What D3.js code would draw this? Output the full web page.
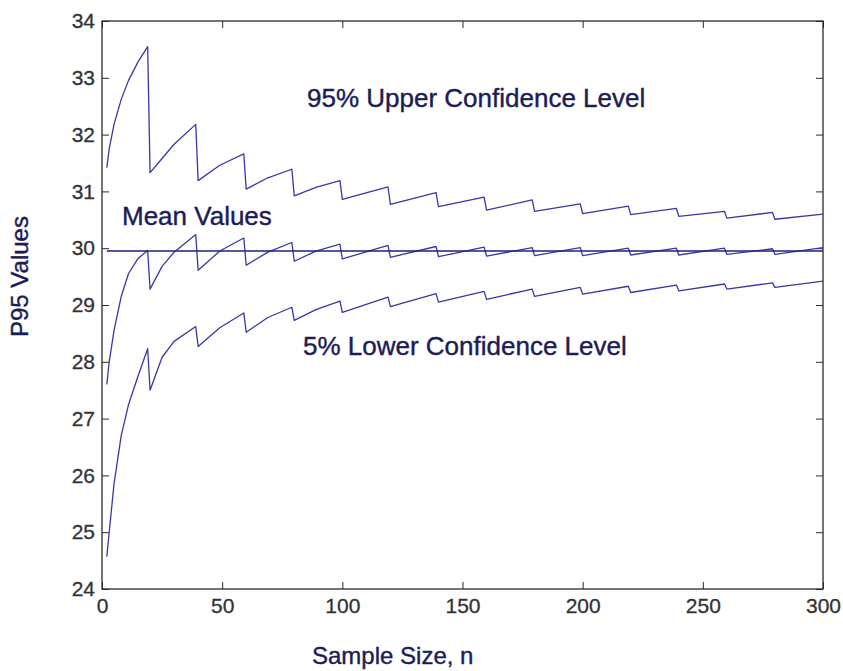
<!DOCTYPE html>
<html>
<head>
<meta charset="utf-8">
<script src="https://cdn.jsdelivr.net/npm/d3@7"></script>
<style>
  body { margin: 0; background: #fff; }
  svg { display: block; }
  .tick text { font-family: Arial, "Liberation Sans", sans-serif; font-size: 21px; fill: #333; stroke: #333; stroke-width: 0.3px; }
  .tick line { stroke: #2a2a2a; stroke-width: 1; }
  .label { font-family: Arial, "Liberation Sans", sans-serif; fill: #1c1c58; stroke: #1c1c58; stroke-width: 0.4px; }
</style>
</head>
<body>
<div id="chart"></div>
<script>
// P95 values vs sample size
var sampleSize = [2, 3, 5, 8, 11, 15, 19, 20, 25, 30, 39, 40, 49, 59, 60, 69, 79, 80, 89, 99,
                  100, 119, 120, 139, 140, 159, 160, 179, 180, 199, 200, 219, 220, 239, 240, 259, 260, 279, 280, 300];

var upperCL = [31.42, 31.75, 32.18, 32.62, 32.95, 33.28, 33.55, 31.33, 31.58, 31.83, 32.18, 31.19, 31.46, 31.66, 31.04, 31.24, 31.39, 30.92, 31.07, 31.19,
               30.86, 31.08, 30.77, 30.98, 30.73, 30.90, 30.67, 30.85, 30.65, 30.78, 30.61, 30.74, 30.59, 30.70, 30.56, 30.65, 30.53, 30.63, 30.51, 30.60];

var meanP95 = [27.60, 28.00, 28.55, 29.15, 29.55, 29.82, 29.96, 29.28, 29.68, 29.93, 30.24, 29.61, 29.95, 30.18, 29.70, 29.93, 30.10, 29.77, 29.95, 30.07,
               29.81, 30.05, 29.84, 30.03, 29.85, 30.02, 29.86, 30.01, 29.87, 30.01, 29.87, 30.00, 29.88, 30.00, 29.88, 30.00, 29.89, 29.99, 29.89, 30.01];

var lowerCL = [24.57, 25.00, 25.85, 26.70, 27.24, 27.75, 28.23, 27.50, 28.08, 28.36, 28.62, 28.27, 28.60, 28.86, 28.52, 28.78, 28.96, 28.73, 28.92, 29.07,
               28.87, 29.14, 28.97, 29.20, 29.05, 29.24, 29.10, 29.28, 29.15, 29.31, 29.19, 29.33, 29.22, 29.35, 29.25, 29.37, 29.28, 29.39, 29.31, 29.42];

var meanLine = [[2, 29.95], [300, 29.95]];

var xTicks = [0, 50, 100, 150, 200, 250, 300];
var yTicks = [24, 25, 26, 27, 28, 29, 30, 31, 32, 33, 34];

var W = 843, H = 671;
var m = {left: 102, right: 823, top: 21, bottom: 589};
var TICK = 7;

var svg = d3.select("#chart").append("svg")
    .attr("width", W)
    .attr("height", H);

var x = d3.scaleLinear().domain([0, 300]).range([m.left, m.right]);
var y = d3.scaleLinear().domain([24, 34]).range([m.bottom, m.top]);

// axes, ticks pointing inward like matlab
svg.append("g")
    .attr("transform", "translate(0," + m.bottom + ")")
    .call(d3.axisBottom(x).tickValues(xTicks).tickSizeInner(-TICK).tickSizeOuter(0).tickPadding(9))
    .call(function(g){ g.select(".domain").remove(); });

svg.append("g")
    .attr("transform", "translate(0," + m.top + ")")
    .call(d3.axisTop(x).tickValues(xTicks).tickSizeInner(-TICK).tickSizeOuter(0).tickFormat(""))
    .call(function(g){ g.select(".domain").remove(); });

svg.append("g")
    .attr("transform", "translate(" + m.left + ",0)")
    .call(d3.axisLeft(y).tickValues(yTicks).tickSizeInner(-TICK).tickSizeOuter(0).tickPadding(7))
    .call(function(g){ g.select(".domain").remove(); });

svg.append("g")
    .attr("transform", "translate(" + m.right + ",0)")
    .call(d3.axisRight(y).tickValues(yTicks).tickSizeInner(-TICK).tickSizeOuter(0).tickFormat(""))
    .call(function(g){ g.select(".domain").remove(); });

svg.append("rect")
    .attr("x", m.left)
    .attr("y", m.top)
    .attr("width", m.right - m.left)
    .attr("height", m.bottom - m.top)
    .attr("fill", "none")
    .attr("stroke", "#2a2a2a")
    .attr("stroke-width", 1.3);

var line = d3.line()
    .x(function(d){ return x(d[0]); })
    .y(function(d){ return y(d[1]); });

var series = [upperCL, meanP95, lowerCL];
series.forEach(function(vals){
    svg.append("path")
	.datum(sampleSize.map(function(n, i){ return [n, vals[i]]; }))
	.attr("d", line)
	.attr("fill", "none")
	.attr("stroke", "#3838a4")
	.attr("stroke-width", 1.3)
	.attr("stroke-linejoin", "round");
});

svg.append("path")
    .datum(meanLine)
    .attr("d", line)
    .attr("fill", "none")
    .attr("stroke", "#1f1f80")
    .attr("stroke-width", 1.6);

// labels in the plot
var labels = [
    {text: "95% Upper Confidence Level", x: 307, y: 107},
    {text: "Mean Values", x: 122, y: 225},
    {text: "5% Lower Confidence Level", x: 303, y: 355}
];
svg.selectAll("text.inplot")
    .data(labels)
    .enter().append("text")
    .attr("class", "label inplot")
    .attr("x", function(d){ return d.x; })
    .attr("y", function(d){ return d.y; })
    .style("font-size", "26px")
    .text(function(d){ return d.text; });

svg.append("text")
    .attr("class", "label")
    .attr("x", 312)
    .attr("y", 664)
    .style("font-size", "24px")
    .text("Sample Size, n");

svg.append("text")
    .attr("class", "label")
    .attr("transform", "translate(28,337) rotate(-90)")
    .style("font-size", "24px")
    .text("P95 Values");
</script>
</body>
</html>
